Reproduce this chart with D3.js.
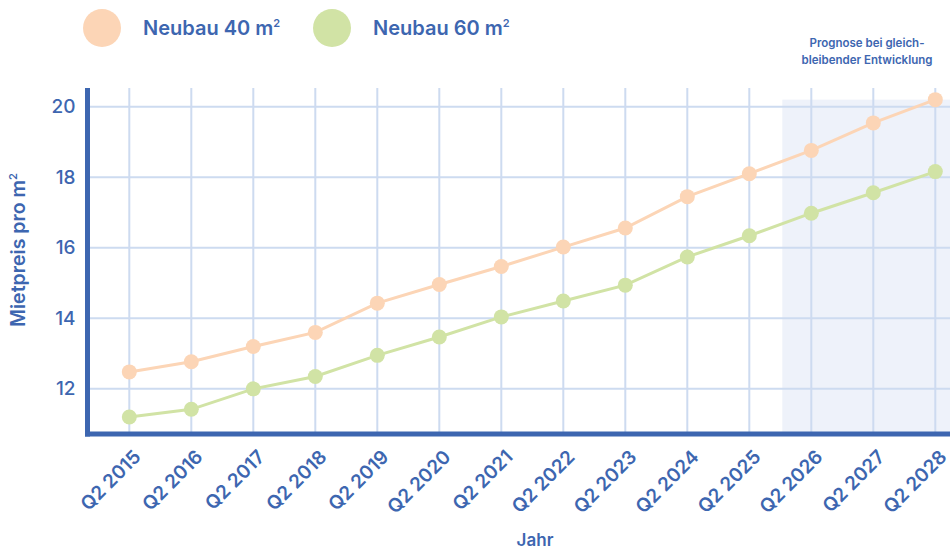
<!DOCTYPE html>
<html>
<head>
<meta charset="utf-8">
<script src="https://cdn.jsdelivr.net/npm/d3@7"></script>
<style>
  body { margin: 0; background: #fff; }
  svg { font-family: Inter, "Noto Sans", sans-serif; }
</style>
</head>
<body>
<svg width="950" height="550"></svg>
<script>
// Kategorien (Quartale)
const jahre = ["Q2 2015", "Q2 2016", "Q2 2017", "Q2 2018", "Q2 2019", "Q2 2020", "Q2 2021",
               "Q2 2022", "Q2 2023", "Q2 2024", "Q2 2025", "Q2 2026", "Q2 2027", "Q2 2028"];

// Mietpreis pro m² je Serie
const neubau40 = [12.48, 12.77, 13.2, 13.6, 14.43, 14.96, 15.47, 16.02, 16.56, 17.45, 18.1, 18.76, 19.54, 20.2];
const neubau60 = [11.2, 11.42, 12.0, 12.35, 12.95, 13.47, 14.04, 14.49, 14.94, 15.74, 16.34, 16.98, 17.56, 18.16];

const yTicks = [12, 14, 16, 18, 20];
const prognoseAb = "Q2 2026";

const serien = [
  { name: "Neubau 40 m", werte: neubau40, farbe: "#fcd5b6" },
  { name: "Neubau 60 m", werte: neubau60, farbe: "#d1e3a5" }
];

const blau = "#3d66b0";
const grid = "#cddbf0";

const svg = d3.select("svg");
const W = +svg.attr("width");

const mLeft = 87.5, mBottom = 434, mTop = 88;

const x = d3.scalePoint()
  .domain(jahre)
  .range([129.3, 935.3]);

const y = d3.scaleLinear()
  .domain([10.72, 20.53])
  .range([mBottom, mTop]);

// Prognose-Bereich
const iP = jahre.indexOf(prognoseAb);
const xP = (x(jahre[iP - 1]) + x(jahre[iP])) / 2 + 2;
svg.append("rect")
  .attr("x", xP)
  .attr("y", y(20.2))
  .attr("width", W - xP)
  .attr("height", mBottom - y(20.2))
  .attr("fill", "#eef2fa");

// Gitternetz
svg.append("g")
  .selectAll("line")
  .data(yTicks)
  .join("line")
  .attr("x1", mLeft).attr("x2", W)
  .attr("y1", d => y(d)).attr("y2", d => y(d))
  .attr("stroke", grid).attr("stroke-width", 2);

svg.append("g")
  .selectAll("line")
  .data(jahre)
  .join("line")
  .attr("x1", d => x(d)).attr("x2", d => x(d))
  .attr("y1", mTop).attr("y2", mBottom)
  .attr("stroke", grid).attr("stroke-width", 2);

// Achsen (dicke Linien)
const yAxis = svg.append("g")
  .attr("transform", `translate(${mLeft},0)`)
  .call(d3.axisLeft(y).tickValues(yTicks).tickSize(0).tickPadding(12));
yAxis.select(".domain").remove();
yAxis.selectAll("text")
  .attr("fill", blau)
  .attr("font-size", 19)
  .attr("font-weight", 500)
  .attr("font-family", "Inter, sans-serif");

const xAxis = svg.append("g")
  .attr("transform", `translate(0,${mBottom})`)
  .call(d3.axisBottom(x).tickSize(0));
xAxis.select(".domain").remove();
xAxis.selectAll("text")
  .attr("fill", blau)
  .attr("font-size", 19)
  .attr("font-weight", 600)
  .attr("font-family", "Inter, sans-serif")
  .attr("text-anchor", "end")
  .attr("dy", 0)
  .attr("transform", "translate(10,22) rotate(-45)");

svg.append("line")
  .attr("x1", mLeft).attr("x2", mLeft)
  .attr("y1", mTop).attr("y2", mBottom + 2.5)
  .attr("stroke", blau).attr("stroke-width", 5);
svg.append("line")
  .attr("x1", mLeft - 2.5).attr("x2", W)
  .attr("y1", mBottom).attr("y2", mBottom)
  .attr("stroke", blau).attr("stroke-width", 5);

// Linien und Punkte
const linie = d3.line()
  .x((d, i) => x(jahre[i]))
  .y(d => y(d));

serien.forEach(s => {
  svg.append("path")
    .datum(s.werte)
    .attr("d", linie)
    .attr("fill", "none")
    .attr("stroke", s.farbe)
    .attr("stroke-width", 3);
  svg.append("g")
    .selectAll("circle")
    .data(s.werte)
    .join("circle")
    .attr("cx", (d, i) => x(jahre[i]))
    .attr("cy", d => y(d))
    .attr("r", 7.5)
    .attr("fill", s.farbe);
});

// Legende
const legX = [102, 332];
serien.forEach((s, i) => {
  const g = svg.append("g").attr("transform", `translate(${legX[i]},28)`);
  g.append("circle").attr("r", 19).attr("fill", s.farbe);
  const t = g.append("text")
    .attr("x", 41).attr("y", 7)
    .attr("fill", blau)
    .attr("font-size", 20)
    .attr("font-weight", 600)
    .text(s.name);
  t.append("tspan").attr("font-size", 11).attr("dy", -8).text("2");
});

// Achsentitel
svg.append("text")
  .attr("x", 535).attr("y", 546)
  .attr("text-anchor", "middle")
  .attr("fill", blau)
  .attr("font-size", 17)
  .attr("font-weight", 600)
  .text("Jahr");

const yt = svg.append("text")
  .attr("transform", "translate(25,250) rotate(-90)")
  .attr("text-anchor", "middle")
  .attr("fill", blau)
  .attr("font-size", 19.5)
  .attr("font-weight", 600)
  .text("Mietpreis pro m");
yt.append("tspan").attr("font-size", 11).attr("dy", -8).text("2");

// Prognose-Hinweis
const hinweis = ["Prognose bei gleich-", "bleibender Entwicklung"];
svg.append("g")
  .selectAll("text")
  .data(hinweis)
  .join("text")
  .attr("x", 867)
  .attr("y", (d, i) => 47 + i * 16.5)
  .attr("text-anchor", "middle")
  .attr("fill", blau)
  .attr("font-size", 11.5)
  .attr("font-weight", 600)
  .text(d => d);
</script>
</body>
</html>
